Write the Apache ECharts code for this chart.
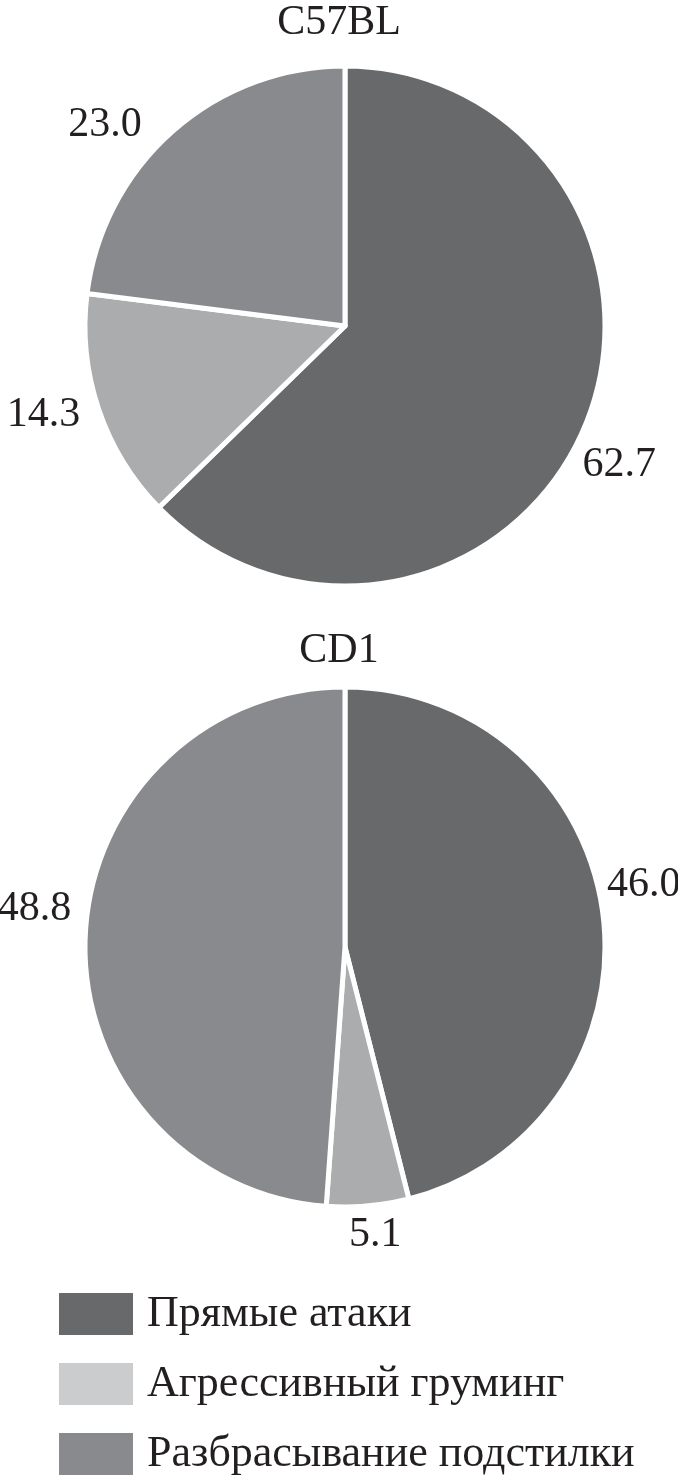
<!DOCTYPE html>
<html><head><meta charset="utf-8">
<script src="https://cdn.jsdelivr.net/npm/echarts@6/dist/echarts.min.js"></script>
<style>html,body{margin:0;padding:0;background:#fff}#c{width:678px;height:1477px}</style>
</head><body><div id="c"></div>
<script>
const categories = ['Прямые атаки', 'Агрессивный груминг', 'Разбрасывание подстилки'];
const titles = ['C57BL', 'CD1'];
const valuesC57BL = [62.7, 14.3, 23.0];
const valuesCD1 = [46.0, 5.1, 48.8];

const pieColors = ['#68696b', '#abacae', '#898a8d'];
const legendColors = ['#68696b', '#cbcccd', '#898a8d'];
const font = 'Liberation Serif';
const txt = '#231f20';

// label nudges (styling only)
const nudges = [
  [[-20, 33], [0, 2], [-17, 4]],
  [[-15, -28], [-25, 15], [5, -28]]
];

function mk(vals) {
  return categories.map((n, i) => ({ name: n, value: vals[i], itemStyle: { color: pieColors[i] } }));
}
function pie(vals, cy, k) {
  return {
    type: 'pie', center: [345, cy], radius: 260, startAngle: 90, clockwise: true,
    avoidLabelOverlap: false,
    itemStyle: { borderColor: '#fff', borderWidth: 5 },
    label: { show: true, position: 'outside', formatter: p => p.value.toFixed(1),
      fontFamily: font, fontSize: 42, color: txt },
    labelLine: { show: false, length: 14, length2: 0 },
    labelLayout: p => ({ dx: nudges[k][p.dataIndex][0], dy: nudges[k][p.dataIndex][1] }),
    emphasis: { disabled: true },
    data: mk(vals)
  };
}
const chart = echarts.init(document.getElementById('c'), null, { renderer: 'canvas' });
chart.setOption({
  animation: false,
  title: [
    { text: titles[0], left: 'center', top: -3, textStyle: { fontFamily: font, fontSize: 42, fontWeight: 'normal', color: txt } },
    { text: titles[1], left: 'center', top: 625, textStyle: { fontFamily: font, fontSize: 42, fontWeight: 'normal', color: txt } }
  ],
  legend: {
    orient: 'vertical', left: 57, top: 1291, height: 186, padding: 0,
    itemWidth: 76, itemHeight: 44, itemGap: 24,
    icon: 'rect', selectedMode: false,
    textStyle: { fontFamily: font, fontSize: 44, lineHeight: 44, color: txt, padding: [0, 0, 0, 8] },
    data: categories.map((n, i) => ({ name: n, itemStyle: { color: legendColors[i] } }))
  },
  series: [pie(valuesC57BL, 326, 0), pie(valuesCD1, 947, 1)]
});
</script></body></html>
